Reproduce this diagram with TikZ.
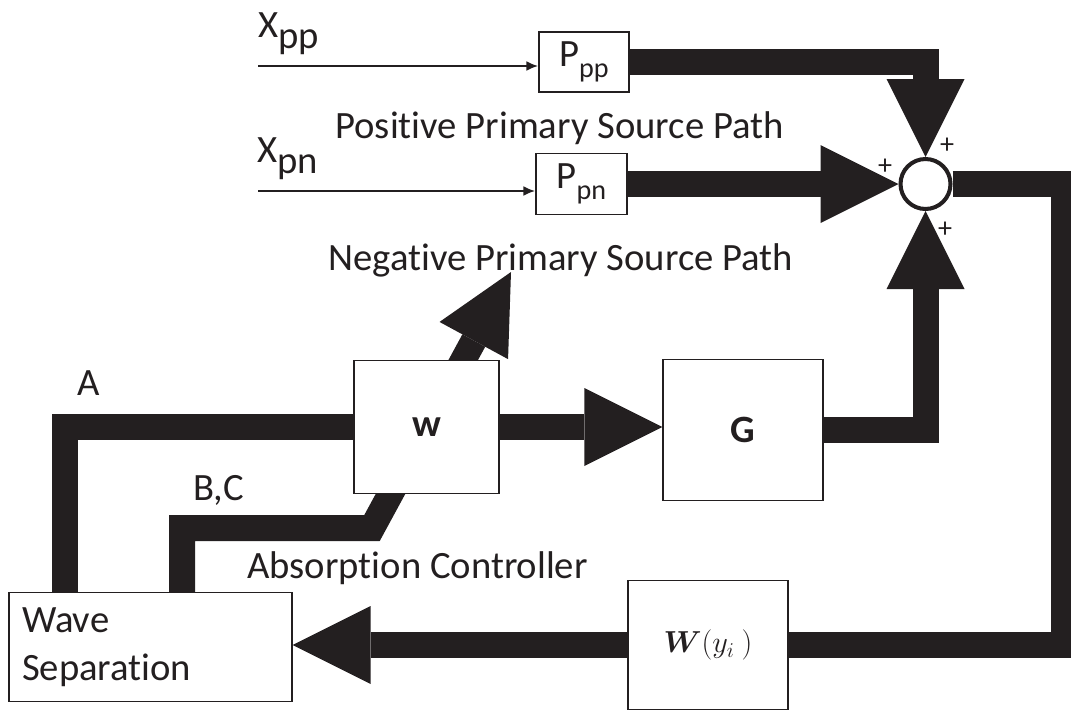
\documentclass[tikz,border=0pt]{standalone}
\usepackage{fontspec}
\setmainfont[Ligatures={NoCommon,NoContextual},Contextuals=NoAlternate]{Carlito}
\usepackage{amsmath,bm}
\usetikzlibrary{arrows.meta,backgrounds}
\definecolor{ink}{RGB}{35,31,32}

\begin{document}
\begin{tikzpicture}[x=0.02cm,y=-0.02cm,
    every node/.style={font=\fontsize{22}{27}\selectfont, text=ink},
    blk/.style={draw=ink, line width=0.8pt, fill=white, inner sep=0pt},
    lbl/.style={inner sep=0pt, anchor=base west},
    sgn/.style={inner sep=0pt, font=\fontsize{16}{16}\selectfont},
    feed/.style={draw=ink, line width=0.52cm},
    bighead/.style={-{Triangle[length=1.56cm,width=1.56cm,line width=0pt]}},
    inarrow/.style={draw=ink, line width=1.3pt, -{Latex[length=0.24cm,width=0.2cm]}}]
    \useasboundingbox (0,0) rectangle (1071,711);

    % blocks
    \node[blk, minimum width=1.8cm, minimum height=1.2cm] (Ppp) at (584,62) {P\raisebox{-0.3em}{\fontsize{16}{16}\selectfont pp}};
    \node[blk, minimum width=1.82cm, minimum height=1.22cm] (Ppn) at (581.5,184) {P\raisebox{-0.3em}{\fontsize{16}{16}\selectfont pn}};
    \node[circle, draw=ink, line width=2.3pt, fill=white, minimum size=1cm] (sum) at (925.5,184) {};
    \node[blk, minimum width=2.9cm, minimum height=2.66cm, font=\fontsize{22}{27}\selectfont\bfseries] (w) at (426.5,427) {w};
    \node[blk, minimum width=3.2cm, minimum height=2.82cm, font=\fontsize{22}{27}\selectfont\bfseries] (G) at (743,430) {G};
    \node[blk, minimum width=3.2cm, minimum height=2.58cm, font=\fontsize{17.28}{20}\selectfont] (Wy) at (708,645) {$\bm{W}(y_i\ )$};
    \node[blk, minimum height=2.18cm, inner xsep=0.26cm, text width=5.14cm, align=left] (ws) at (150.5,647) {Wave\\Separation};

    % labels
    \node[lbl] (xpp) at (258,37) {X\raisebox{-0.3em}{pp}};
    \node[lbl] (xpn) at (257,162) {X\raisebox{-0.3em}{pn}};
    \node[lbl] (pos) at (335,138) {Positive Primary Source Path};
    \node[lbl] (neg) at (328,270) {Negative Primary Source Path};
    \node[lbl] (abs) at (247,578) {Absorption Controller};
    \node[lbl] (la) at (77,395) {A};
    \node[lbl] (lbc) at (193,500) {B,C};
    \node[sgn] (s1) at (947,146) {+};
    \node[sgn] (s2) at (885,167) {+};
    \node[sgn] (s3) at (945,230) {+};

    % inputs
    \coordinate (xppin) at (258,66);
    \coordinate (xpnin) at (258,191);
    \draw[inarrow] (xppin) -- (xppin -| Ppp.west);
    \draw[inarrow] (xpnin) -- (xpnin -| Ppn.west);

    \coordinate (rc) at (1064,645);
    \coordinate (aleg) at (65,590);
    \coordinate (bcleg) at (182,590);
    \coordinate (bcbend) at (372,528);
    \coordinate (wtip) at (511,272);

    \begin{scope}[on background layer]
        \draw[feed, bighead] (Ppp.east) -| (sum.north);
        \draw[feed, bighead] (Ppn.east) -- (sum.west);
        \draw[feed, bighead] (G.east) -| (sum.south);
        \draw[feed, bighead] (w.east) -- (w.east -| G.west);
        \draw[feed] (sum.east) -| (rc) -- (Wy.east);
        \draw[feed, bighead] (Wy.west) -- (Wy.west -| ws.east);
        \draw[feed] (ws.north -| aleg) |- (w.west);
        \draw[feed, bighead] (ws.north -| bcleg) |- (bcbend) -- (wtip);
    \end{scope}
\end{tikzpicture}
\end{document}
